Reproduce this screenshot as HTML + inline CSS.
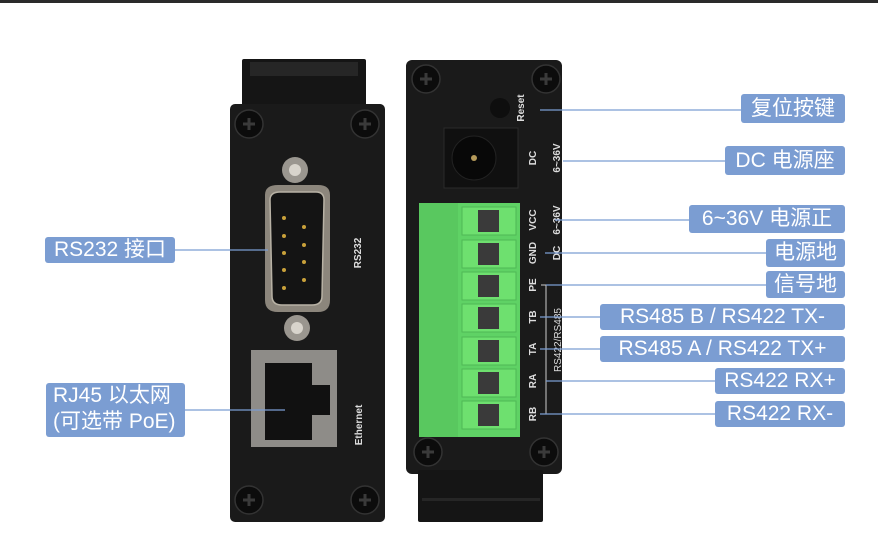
<!DOCTYPE html>
<html><head><meta charset="utf-8"><style>
html,body{margin:0;padding:0;background:#fff}
#c{position:relative;width:878px;height:558px;overflow:hidden;background:#fff}
.l{position:absolute;background:#7b9dd2;color:#fff;border-radius:3px;font-family:"Liberation Sans","Noto Sans CJK SC",sans-serif;font-size:21px;line-height:28px;text-align:center;white-space:nowrap}
svg{position:absolute;left:0;top:0}
</style></head><body><div id="c">
<svg width="878" height="558" viewBox="0 0 878 558" font-family="Liberation Sans, sans-serif">
<rect x="0" y="0" width="878" height="3" fill="#2a2a2a"/>
<!-- left device -->
<rect x="242" y="59" width="124" height="50" rx="2" fill="#151515"/>
<rect x="250" y="62" width="108" height="14" fill="#262626"/>
<rect x="230" y="104" width="155" height="418" rx="5" fill="#1a1a1a"/>
<g fill="#0c0c0c" stroke="#333" stroke-width="1.5">
<circle cx="249" cy="124" r="14"/><circle cx="365" cy="124" r="14"/>
<circle cx="249" cy="500" r="14"/><circle cx="365" cy="500" r="14"/>
</g>
<g stroke="#3a3a3a" stroke-width="3">
<path d="M243 124h12M249 118v12M359 124h12M365 118v12M243 500h12M249 494v12M359 500h12M365 494v12"/>
</g>
<circle cx="295" cy="170" r="13" fill="#9a968f"/><circle cx="295" cy="170" r="6" fill="#d8d4cc"/>
<circle cx="297" cy="328" r="13" fill="#9a968f"/><circle cx="297" cy="328" r="6" fill="#d8d4cc"/>
<path d="M265 195 Q265 185 278 185 L318 185 Q330 185 330 195 L330 300 Q330 312 318 312 L278 312 Q265 312 265 300 Z" fill="#8c867c"/>
<path d="M270 200 Q270 192 280 192 L316 192 Q324 192 324 200 L322 296 Q322 305 312 305 L282 305 Q272 305 272 296 Z" fill="#141414" stroke="#b8b2a5" stroke-width="1.5"/>
<g fill="#c9a13a"><circle cx="284" cy="218" r="2"/><circle cx="284" cy="236" r="2"/><circle cx="284" cy="253" r="2"/><circle cx="284" cy="270" r="2"/><circle cx="284" cy="288" r="2"/><circle cx="304" cy="227" r="2"/><circle cx="304" cy="245" r="2"/><circle cx="304" cy="262" r="2"/><circle cx="304" cy="280" r="2"/></g>
<text transform="translate(361,253) rotate(-90)" fill="#ddd" font-size="10" font-weight="bold" text-anchor="middle">RS232</text>
<rect x="251" y="350" width="86" height="97" fill="#8e8c88"/>
<path d="M265 363h47v22h18v30h-18v25h-47z" fill="#111"/>
<text transform="translate(362,425) rotate(-90)" fill="#ddd" font-size="10" font-weight="bold" text-anchor="middle">Ethernet</text>
<!-- right device -->
<rect x="406" y="60" width="156" height="414" rx="6" fill="#1a1a1a"/>
<rect x="418" y="470" width="125" height="52" rx="2" fill="#151515"/>
<rect x="422" y="498" width="118" height="3" fill="#262626"/>
<g fill="#0c0c0c" stroke="#333" stroke-width="1.5">
<circle cx="426" cy="79" r="14"/><circle cx="546" cy="79" r="14"/>
<circle cx="428" cy="452" r="14"/><circle cx="544" cy="452" r="14"/>
</g>
<g stroke="#3a3a3a" stroke-width="3"><path d="M420 79h12M426 73v12M540 79h12M546 73v12M422 452h12M428 446v12M538 452h12M544 446v12"/></g>
<circle cx="500" cy="108" r="10" fill="#0e0e0e"/>
<text transform="translate(524,108) rotate(-90)" fill="#ddd" font-size="10" font-weight="bold" text-anchor="middle">Reset</text>
<rect x="444" y="128" width="74" height="60" fill="#101010" stroke="#2a2a2a"/>
<circle cx="474" cy="158" r="22" fill="#080808" stroke="#222"/>
<circle cx="474" cy="158" r="3" fill="#b59a5a"/>
<g fill="#ddd" font-size="10" font-weight="bold" text-anchor="middle">
<text transform="translate(536,158) rotate(-90)">DC</text>
<text transform="translate(560,158) rotate(-90)">6~36V</text>
</g>
<rect x="419" y="203" width="101" height="234" fill="#5fd265"/>
<rect x="419" y="203" width="39" height="234" fill="#59c85f"/>
<g fill="#6ee06f" stroke="#4fb855">
<rect x="462" y="207" width="54" height="28"/><rect x="462" y="240" width="54" height="28"/><rect x="462" y="272" width="54" height="28"/><rect x="462" y="304" width="54" height="28"/><rect x="462" y="337" width="54" height="28"/><rect x="462" y="369" width="54" height="28"/><rect x="462" y="401" width="54" height="28"/>
</g>
<g fill="#3a3a3a"><rect x="478" y="210" width="21" height="22"/><rect x="478" y="243" width="21" height="22"/><rect x="478" y="275" width="21" height="22"/><rect x="478" y="307" width="21" height="22"/><rect x="478" y="340" width="21" height="22"/><rect x="478" y="372" width="21" height="22"/><rect x="478" y="404" width="21" height="22"/></g>
<g fill="#ddd" font-size="10" font-weight="bold" text-anchor="middle">
<text transform="translate(536,220) rotate(-90)">VCC</text>
<text transform="translate(536,253) rotate(-90)">GND</text>
<text transform="translate(536,285) rotate(-90)">PE</text>
<text transform="translate(536,317) rotate(-90)">TB</text>
<text transform="translate(536,349) rotate(-90)">TA</text>
<text transform="translate(536,381) rotate(-90)">RA</text>
<text transform="translate(536,414) rotate(-90)">RB</text>
<text transform="translate(560,220) rotate(-90)">6~36V</text>
<text transform="translate(560,253) rotate(-90)">DC</text>
<text transform="translate(561,340) rotate(-90)" font-weight="normal">RS422/RS485</text>
</g>
<path d="M541 285h5v129h-5" stroke="#ccc" fill="none"/>
<g stroke="#7b9dd2" stroke-width="1.2">
<path d="M540 110H741M563 161H725M555 220H689M545 253H766M546 285H766M540 317H600M540 349H600M546 381H715M540 414H715M175 250H268M185 410H285"/>
</g>
</svg>
<div class="l" style="left:741px;top:94px;width:104px;height:29px;line-height:29px">复位按键</div>
<div class="l" style="left:725px;top:146px;width:120px;height:29px;line-height:29px">DC 电源座</div>
<div class="l" style="left:689px;top:205px;width:156px;height:28px">6~36V 电源正</div>
<div class="l" style="left:766px;top:239px;width:79px;height:28px">电源地</div>
<div class="l" style="left:766px;top:271px;width:79px;height:27px;line-height:27px">信号地</div>
<div class="l" style="left:600px;top:304px;width:245px;height:26px;line-height:26px">RS485 B / RS422 TX-</div>
<div class="l" style="left:600px;top:336px;width:245px;height:26px;line-height:26px">RS485 A / RS422 TX+</div>
<div class="l" style="left:715px;top:368px;width:130px;height:26px;line-height:26px">RS422 RX+</div>
<div class="l" style="left:715px;top:401px;width:130px;height:26px;line-height:26px">RS422 RX-</div>
<div class="l" style="left:45px;top:237px;width:130px;height:26px;line-height:26px">RS232 接口</div>
<div class="l" style="left:46px;top:383px;width:139px;height:54px;line-height:26px;text-align:left;padding-left:7px;box-sizing:border-box">RJ45 以太网<br>(可选带 PoE)</div>
</div></body></html>
